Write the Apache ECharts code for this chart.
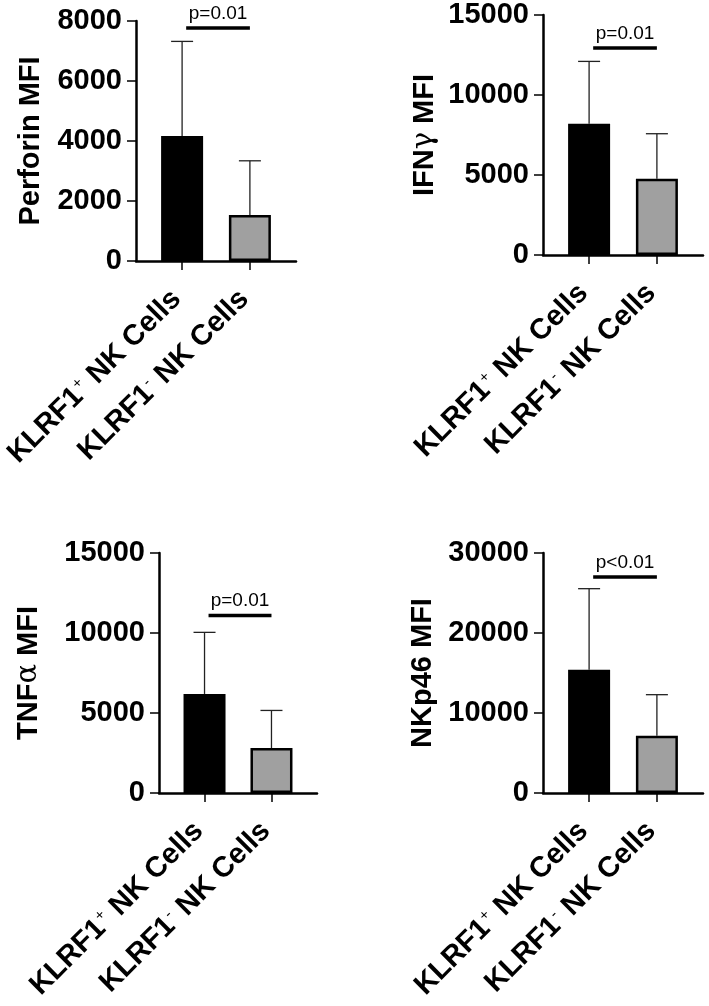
<!DOCTYPE html>
<html>
<head>
<meta charset="utf-8">
<script src="https://cdn.jsdelivr.net/npm/echarts@6/dist/echarts.min.js"></script>
<style>
  html, body { margin: 0; padding: 0; background: #fff; }
  #chart { width: 709px; height: 1006px; }
</style>
</head>
<body>
<div id="chart"></div>
<script>
// groups on the x axis
const groups = ['KLRF1+ NK Cells', 'KLRF1- NK Cells'];

// mean and SD per panel
const perforinMean = [4170, 1530];
const perforinSD = [3150, 1810];
const ifngMean = [8200, 4760];
const ifngSD = [3900, 2820];
const tnfaMean = [6190, 2810];
const tnfaSD = [3850, 2350];
const nkp46Mean = [15410, 7160];
const nkp46SD = [10130, 5130];

// axis ticks
const yMaxList = [8000, 15000, 15000, 30000];
const yStepList = [2000, 5000, 5000, 10000];

// significance labels
const pTexts = ['p=0.01', 'p=0.01', 'p=0.01', 'p<0.01'];
const pHeights = [7770, 12930, 11100, 27000];

const FONT = '"Liberation Sans", Arial, sans-serif';
const barColors = ['#000000', '#a0a0a0'];

// layout for the 4 panels
const panels = [
  { name: 'Perforin MFI', mean: perforinMean, sd: perforinSD, grid: { left: 136, top: 21, width: 160, height: 240 }, nameGap: 91 },
  { name: 'IFN{g|γ} MFI', mean: ifngMean, sd: ifngSD, grid: { left: 543, top: 15, width: 160, height: 240 }, nameGap: 104 },
  { name: 'TNF{g|α} MFI', mean: tnfaMean, sd: tnfaSD, grid: { left: 159, top: 553, width: 158, height: 240 }, nameGap: 116 },
  { name: 'NKp46 MFI', mean: nkp46Mean, sd: nkp46SD, grid: { left: 543, top: 553, width: 160, height: 240 }, nameGap: 106 },
];

function groupLabel(v) {
  const i = Math.round(v);
  const s = groups[i];
  if (!s) return '';
  // KLRF1+ -> KLRF1 with superscript sign
  const sign = s.charAt(5);
  return '{a|KLRF1}{s|' + (sign === '+' ? '+' : '-') + '}{e|' + s.slice(6) + '}';
}

let myChart = echarts.init(document.getElementById('chart'));
let option = { animation: false, grid: [], xAxis: [], yAxis: [], series: [] };

panels.forEach((p, k) => {
  option.grid.push(p.grid);
  option.xAxis.push({
    type: 'value',
    gridIndex: k,
    min: -0.68,
    max: 1.68,
    splitLine: { show: false },
    axisLine: { show: true, lineStyle: { color: '#000', width: 2.5 } },
    axisTick: { show: true, length: 9, customValues: [0, 1], lineStyle: { color: '#000', width: 1.5 } },
    axisLabel: {
      customValues: [0, 1],
      rotate: 45,
      margin: 28,
      formatter: groupLabel,
      rich: {
        a: { fontFamily: FONT, fontWeight: 'bold', fontSize: 29, color: '#000' },
        e: { fontFamily: FONT, fontWeight: 'bold', fontSize: 29, color: '#000', padding: [0, 8, 0, 0] },
        s: { fontFamily: FONT, fontWeight: 'normal', fontSize: 15, color: '#000', verticalAlign: 'top', padding: [0, 1, 0, 1] },
      },
    },
  });
  option.yAxis.push({
    type: 'value',
    gridIndex: k,
    min: 0,
    max: yMaxList[k],
    interval: yStepList[k],
    name: p.name,
    nameLocation: 'middle',
    nameGap: p.nameGap,
    nameTextStyle: {
      fontFamily: FONT, fontWeight: 'bold', fontSize: 29, color: '#000',
      rich: { g: { fontFamily: '"DejaVu Serif", "Liberation Serif", serif', fontWeight: 'normal', fontSize: 29, color: '#000' } },
    },
    splitLine: { show: false },
    axisLine: { show: true, onZero: false, lineStyle: { color: '#000', width: 2.5 } },
    axisTick: { show: true, length: 9, lineStyle: { color: '#000', width: 1.5 } },
    axisLabel: {
      margin: 14, fontFamily: FONT, fontWeight: 'bold', fontSize: 29, color: '#000',
      formatter: (v) => String(v),
    },
  });

  // bars
  option.series.push({
    type: 'bar',
    xAxisIndex: k,
    yAxisIndex: k,
    barWidth: 42,
    data: p.mean.map((m, i) => ({
      value: [i, m],
      itemStyle: { color: barColors[i], borderColor: '#000', borderWidth: 2.5 },
    })),
    z: 2,
  });

  // error bars (upper only)
  option.series.push({
    type: 'custom',
    xAxisIndex: k,
    yAxisIndex: k,
    data: p.mean.map((m, i) => [i, m, m + p.sd[i]]),
    renderItem: function (params, api) {
      const lo = api.coord([api.value(0), api.value(1)]);
      const hi = api.coord([api.value(0), api.value(2)]);
      const style = { stroke: '#222', lineWidth: 1.3 };
      return {
        type: 'group',
        children: [
          { type: 'line', shape: { x1: lo[0], y1: lo[1], x2: hi[0], y2: hi[1] }, style: style },
          { type: 'line', shape: { x1: hi[0] - 11, y1: hi[1], x2: hi[0] + 11, y2: hi[1] }, style: style },
        ],
      };
    },
    z: 1,
  });

  // significance bracket
  option.series.push({
    type: 'custom',
    xAxisIndex: k,
    yAxisIndex: k,
    data: [[0.06, 1.0, pHeights[k]]],
    renderItem: function (params, api) {
      const a = api.coord([api.value(0), api.value(2)]);
      const b = api.coord([api.value(1), api.value(2)]);
      return {
        type: 'group',
        children: [
          { type: 'line', shape: { x1: a[0], y1: a[1], x2: b[0], y2: b[1] }, style: { stroke: '#000', lineWidth: 3.5 } },
          {
            type: 'text',
            x: (a[0] + b[0]) / 2,
            y: a[1] - 5,
            style: { text: pTexts[k], fill: '#000', fontFamily: FONT, fontSize: 19, align: 'center', verticalAlign: 'bottom' },
          },
        ],
      };
    },
    z: 3,
  });
});

option && myChart.setOption(option);
</script>
</body>
</html>
